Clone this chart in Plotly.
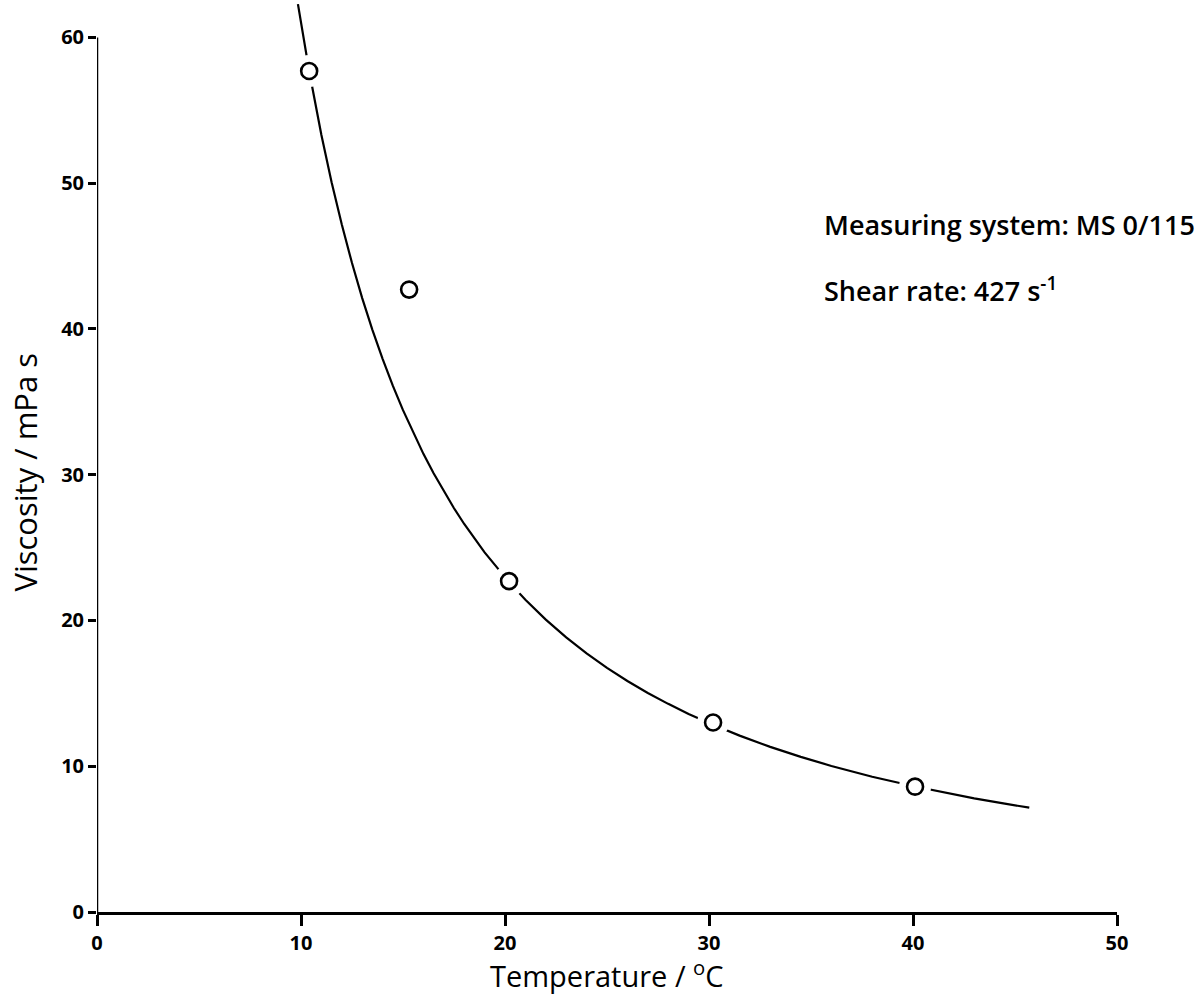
import plotly.graph_objects as go

# Measured points
temp_pts = [10.4, 15.3, 20.2, 30.2, 40.1]
visc_pts = [57.7, 42.7, 22.7, 13.0, 8.6]

# Fitted curve
temp_curve = [9.85, 10.4, 11.0, 11.5, 12.0, 12.5, 13.0, 13.5, 14.0, 14.5, 15.0, 15.5, 16.0, 16.5,
              17.0, 17.5, 18.0, 19.0, 20.2, 21.0, 22.0, 23.0, 24.0, 25.0, 26.0, 27.0, 28.0,
              29.0, 30.2, 31.5, 33.0, 34.5, 36.0, 38.0, 40.1, 41.5, 43.0, 44.5, 45.7]
visc_curve = [62.29, 57.70, 53.31, 50.07, 47.16, 44.52, 42.12, 39.94, 37.95, 36.11, 34.43, 32.87,
              31.43, 30.10, 28.86, 27.70, 26.62, 24.67, 22.63, 21.42, 20.06, 18.84, 17.75, 16.75,
              15.85, 15.03, 14.28, 13.59, 12.84, 12.10, 11.33, 10.64, 10.02, 9.28, 8.61, 8.20,
              7.80, 7.43, 7.16]

x_ticks = [0, 10, 20, 30, 40, 50]
y_ticks = [0, 10, 20, 30, 40, 50, 60]

FONT = "Open Sans"

fig = go.Figure()
fig.add_trace(go.Scatter(x=temp_curve, y=visc_curve, mode="lines",
                         line=dict(color="black", width=2.2, shape="linear"),
                         cliponaxis=False, showlegend=False, hoverinfo="skip"))
# white gaps around markers
fig.add_trace(go.Scatter(x=temp_pts, y=visc_pts, mode="markers",
                         marker=dict(symbol="circle", size=32, color="white", line=dict(width=0)),
                         cliponaxis=False, showlegend=False, hoverinfo="skip"))
fig.add_trace(go.Scatter(x=temp_pts, y=visc_pts, mode="markers",
                         marker=dict(symbol="circle-open", size=16, color="black", line=dict(width=2.6, color="black")),
                         cliponaxis=False, showlegend=False))

# y axis line from 0 to 60
fig.add_shape(type="line", xref="x", yref="y", x0=0, x1=0, y0=0, y1=60, line=dict(color="black", width=2.5))

fig.update_layout(
    width=1196, height=1000,
    margin=dict(l=97, r=79, t=1, b=88),
    paper_bgcolor="white", plot_bgcolor="white",
    font=dict(family=FONT, color="black"),
    xaxis=dict(range=[0, 50], tickvals=x_ticks, showgrid=False, zeroline=False,
               showline=True, linecolor="black", linewidth=2.5,
               ticks="outside", ticklen=11, tickwidth=2.5, tickcolor="black",
               tickfont=dict(family=FONT, size=20, weight="bold")),
    yaxis=dict(range=[0, 62.5], tickvals=y_ticks, showgrid=False, zeroline=False,
               showline=False, ticks="outside", ticklen=8, tickwidth=2.5, tickcolor="black",
               tickfont=dict(family=FONT, size=20, weight="bold")),
)

fig.add_annotation(text="Temperature / <sup>o</sup>C", xref="paper", yref="paper", x=0.5, y=-0.068,
                   xanchor="center", yanchor="middle", showarrow=False,
                   font=dict(family=FONT, size=29, weight=500))
fig.add_annotation(text="Viscosity / mPa s", xref="paper", yref="paper", x=-0.071, y=0.483,
                   xanchor="center", yanchor="middle", textangle=-90, showarrow=False,
                   font=dict(family=FONT, size=31, weight=500))
fig.add_annotation(text="Measuring system: MS 0/115", xref="paper", yref="paper", x=0.711, y=0.755,
                   xanchor="left", yanchor="middle", showarrow=False,
                   font=dict(family=FONT, size=27, weight=600))
fig.add_annotation(text="Shear rate: 427 s<sup>-1</sup>", xref="paper", yref="paper", x=0.711, y=0.683,
                   xanchor="left", yanchor="middle", showarrow=False,
                   font=dict(family=FONT, size=27, weight=600))

fig.write_html("out.html")
